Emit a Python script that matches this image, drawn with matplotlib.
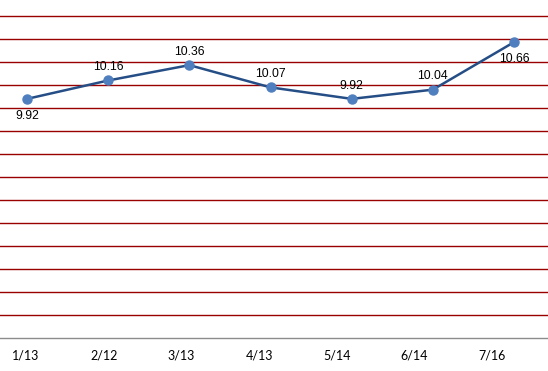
import numpy as np
import matplotlib
matplotlib.use('Agg')
import matplotlib.pyplot as plt

dates = ['1/13', '2/12', '3/13', '4/13', '5/14', '6/14', '7/16']
values = [9.92, 10.16, 10.36, 10.07, 9.92, 10.04, 10.66]
labelBelow = [True, False, False, False, False, False, True]

fig = plt.figure(figsize=(5.48, 3.71), dpi=100)
ax = fig.add_axes([0, 33 / 371, 1, 338 / 371])

x = np.arange(len(values))
for g in np.arange(7.1, 11.05, 0.3):
  ax.axhline(g, color='#990000', lw=1.0, zorder=1)

ax.plot(x, values, color='#264E86', lw=1.8, zorder=3,
        marker='o', markersize=6.5, markerfacecolor='#4F7FBF',
        markeredgecolor='#4F7FBF')

for xi, v, below in zip(x, values, labelBelow):
  off = -12 if below else 9.5
  ax.annotate(f'{v:.2f}', (xi, v), xytext=(0, off), textcoords='offset points',
              ha='center', va='center', fontsize=8.8,
              family='Liberation Sans', color='black')

ax.set_xlim(-0.333, 6.419)
ax.set_ylim(6.8, 11.21)
ax.set_yticks([])
# category labels sit a bit tighter than the points in the original
ax.set_xticks(x * 77.7 / 81.17 - 0.012)
ax.set_xticklabels(dates, family='Lato', fontsize=9)
ax.tick_params(axis='x', length=0, pad=8.5)
for s in ['top', 'left', 'right']:
  ax.spines[s].set_visible(False)
ax.spines['bottom'].set_color('#8C8C8C')
ax.spines['bottom'].set_linewidth(1.0)

fig.savefig('out.png', dpi=100)
